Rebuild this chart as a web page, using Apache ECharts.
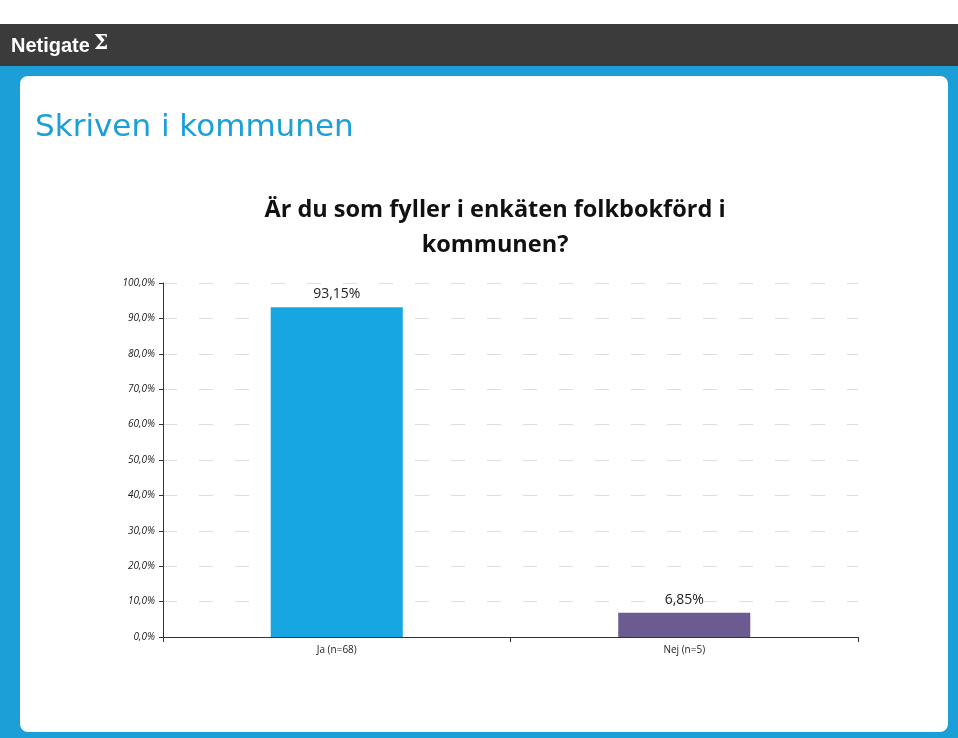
<!DOCTYPE html>
<html>
<head>
<meta charset="utf-8">
<script src="https://cdn.jsdelivr.net/npm/echarts@6/dist/echarts.min.js"></script>
<style>
html,body{margin:0;padding:0;background:#fff;}
#chart{width:958px;height:738px;}
</style>
</head>
<body>
<div id="chart"></div>
<script>
const categories = ['Ja (n=68)', 'Nej (n=5)'];
const values = [93.15, 6.85];
const barColors = ['#17a6e2', '#6b5b90'];
const yTicks = [0, 10, 20, 30, 40, 50, 60, 70, 80, 90, 100];
const slideTitle = 'Skriven i kommunen';
const chartTitle = 'Är du som fyller i enkäten folkbokförd i\nkommunen?';

const fmt = v => v.toFixed(1).replace('.', ',') + '%';
const fmt2 = v => v.toFixed(2).replace('.', ',') + '%';

const chart = echarts.init(document.getElementById('chart'));
chart.setOption({
  backgroundColor: '#ffffff',
  animation: false,
  graphic: [
    { type: 'rect', shape: { x: 0, y: 24, width: 958, height: 44 }, style: { fill: '#3b3b3b' }, z: -10 },
    { type: 'rect', shape: { x: 0, y: 66, width: 958, height: 672 }, style: { fill: '#1c9fd6' }, z: -10 },
    { type: 'rect', shape: { x: 20, y: 76, width: 928, height: 656, r: 8 }, style: { fill: '#ffffff' }, z: -9 },
    { type: 'text', left: 11, top: 36, style: { text: 'Netigate', fill: '#ffffff', font: 'bold 20px "Liberation Sans Narrow", "Arial Narrow", sans-serif' }, z: 10 },
    { type: 'text', left: 94, top: 34, style: { text: 'Σ', fill: '#ffffff', font: 'bold 20px "DejaVu Serif", serif' }, z: 10 },
    { type: 'text', left: 35, top: 112, style: { text: slideTitle, fill: '#1a9fd9', font: '31px "DejaVu Sans", Verdana, sans-serif' }, z: 10 }
  ],
  title: {
    text: chartTitle,
    left: 490,
    textAlign: 'center',
    top: 188,
    textStyle: { fontFamily: '"Open Sans", "Noto Sans", sans-serif', fontWeight: 'bold', fontSize: 23.5, lineHeight: 35, color: '#111' }
  },
  grid: { left: 163, right: 100, top: 283, bottom: 101 },
  xAxis: {
    type: 'category',
    data: categories,
    axisLine: { lineStyle: { color: '#333', width: 1 } },
    axisTick: { show: true, alignWithLabel: false, length: 5, lineStyle: { color: '#333' } },
    axisLabel: { color: '#222', fontSize: 10, fontFamily: '"Open Sans", sans-serif', margin: 8 }
  },
  yAxis: {
    type: 'value',
    min: 0, max: 100, interval: 10,
    axisLine: { show: true, lineStyle: { color: '#333', width: 1 } },
    axisTick: { show: true, length: 4, lineStyle: { color: '#333' } },
    axisLabel: { color: '#222', fontSize: 10, fontStyle: 'italic', fontFamily: '"Open Sans", sans-serif', formatter: v => fmt(v), margin: 8 },
    splitLine: { show: true, lineStyle: { color: '#dddddd', type: [14, 22], width: 1 } }
  },
  series: [{
    type: 'bar',
    data: values.map((v, i) => ({ value: v, itemStyle: { color: barColors[i] } })),
    barWidth: '38%',
    label: {
      show: true, position: 'top', distance: 6,
      color: '#222', fontSize: 14, fontFamily: '"Open Sans", sans-serif',
      formatter: p => fmt2(p.value)
    }
  }]
});
</script>
</body>
</html>
